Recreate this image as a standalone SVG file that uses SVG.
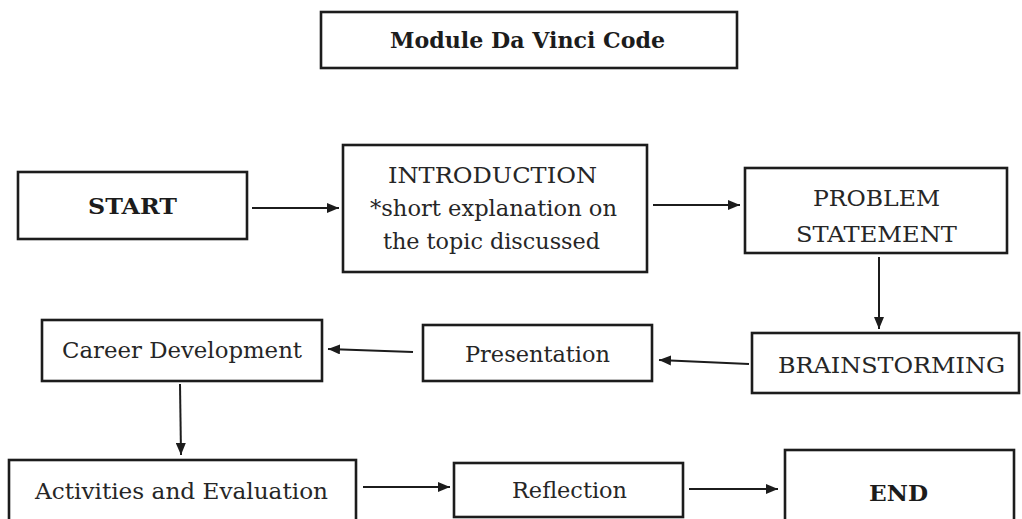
<svg xmlns="http://www.w3.org/2000/svg" width="1022" height="519" viewBox="0 0 1022 519">
<style>
.box{fill:#fff;stroke:#1c1c1c;stroke-width:2.6}
.t{font-family:"DejaVu Serif","Liberation Serif",serif;font-size:22.5px;fill:#262626}
.b{font-family:"DejaVu Serif","Liberation Serif",serif;font-size:22px;font-weight:bold;fill:#1c1c1c}
.c{stroke:#1c1c1c;stroke-width:2;fill:none;marker-end:url(#ah)}
</style>
<defs>
<marker id="ah" markerUnits="userSpaceOnUse" markerWidth="13" markerHeight="10" refX="12" refY="5" orient="auto">
<path d="M0,0 L12,5 L0,10 z" fill="#1c1c1c"/>
</marker>
</defs>
<rect width="1022" height="519" fill="#fff"/>
<g id="title">
<rect class="box" x="321" y="12" width="416" height="56"/>
<text class="b" x="390" y="48" textLength="275" lengthAdjust="spacingAndGlyphs">Module Da Vinci Code</text>
</g>
<g id="start">
<rect class="box" x="18" y="172" width="229" height="67"/>
<text class="b" x="88" y="214" textLength="89" lengthAdjust="spacingAndGlyphs">START</text>
</g>
<g id="intro">
<rect class="box" x="343" y="145" width="304" height="127"/>
<text class="t" x="388" y="183" textLength="209" lengthAdjust="spacingAndGlyphs">INTRODUCTION</text>
<text class="t" x="370" y="216" textLength="247" lengthAdjust="spacingAndGlyphs">*short explanation on</text>
<text class="t" x="383" y="249" textLength="217" lengthAdjust="spacingAndGlyphs">the topic discussed</text>
</g>
<g id="problem">
<rect class="box" x="745" y="168" width="262" height="85"/>
<text class="t" x="813" y="206" textLength="127" lengthAdjust="spacingAndGlyphs">PROBLEM</text>
<text class="t" x="796" y="242" textLength="161" lengthAdjust="spacingAndGlyphs">STATEMENT</text>
</g>
<g id="brainstorming">
<rect class="box" x="752" y="333" width="267" height="60"/>
<text class="t" x="778" y="373" textLength="227" lengthAdjust="spacingAndGlyphs">BRAINSTORMING</text>
</g>
<g id="presentation">
<rect class="box" x="423" y="325" width="229" height="56"/>
<text class="t" x="465" y="362" textLength="145" lengthAdjust="spacingAndGlyphs">Presentation</text>
</g>
<g id="career">
<rect class="box" x="42" y="320" width="280" height="61"/>
<text class="t" x="62" y="358" textLength="240" lengthAdjust="spacingAndGlyphs">Career Development</text>
</g>
<g id="activities">
<rect class="box" x="9" y="460" width="347" height="64"/>
<text class="t" x="35" y="499" textLength="293" lengthAdjust="spacingAndGlyphs">Activities and Evaluation</text>
</g>
<g id="reflection">
<rect class="box" x="454" y="463" width="229" height="54"/>
<text class="t" x="512" y="498" textLength="115" lengthAdjust="spacingAndGlyphs">Reflection</text>
</g>
<g id="end">
<rect class="box" x="785" y="450" width="229" height="74"/>
<text class="b" x="869" y="501" textLength="59" lengthAdjust="spacingAndGlyphs">END</text>
</g>
<g id="connectors">
<line class="c" x1="252" y1="208" x2="339" y2="208"/>
<line class="c" x1="653" y1="205" x2="740" y2="205"/>
<line class="c" x1="879" y1="257" x2="879" y2="329"/>
<line class="c" x1="749" y1="364" x2="659" y2="360"/>
<line class="c" x1="413" y1="352" x2="328" y2="349"/>
<line class="c" x1="180" y1="384" x2="181" y2="455"/>
<line class="c" x1="363" y1="487" x2="450" y2="487"/>
<line class="c" x1="689" y1="489" x2="778" y2="489"/>
</g>
</svg>
